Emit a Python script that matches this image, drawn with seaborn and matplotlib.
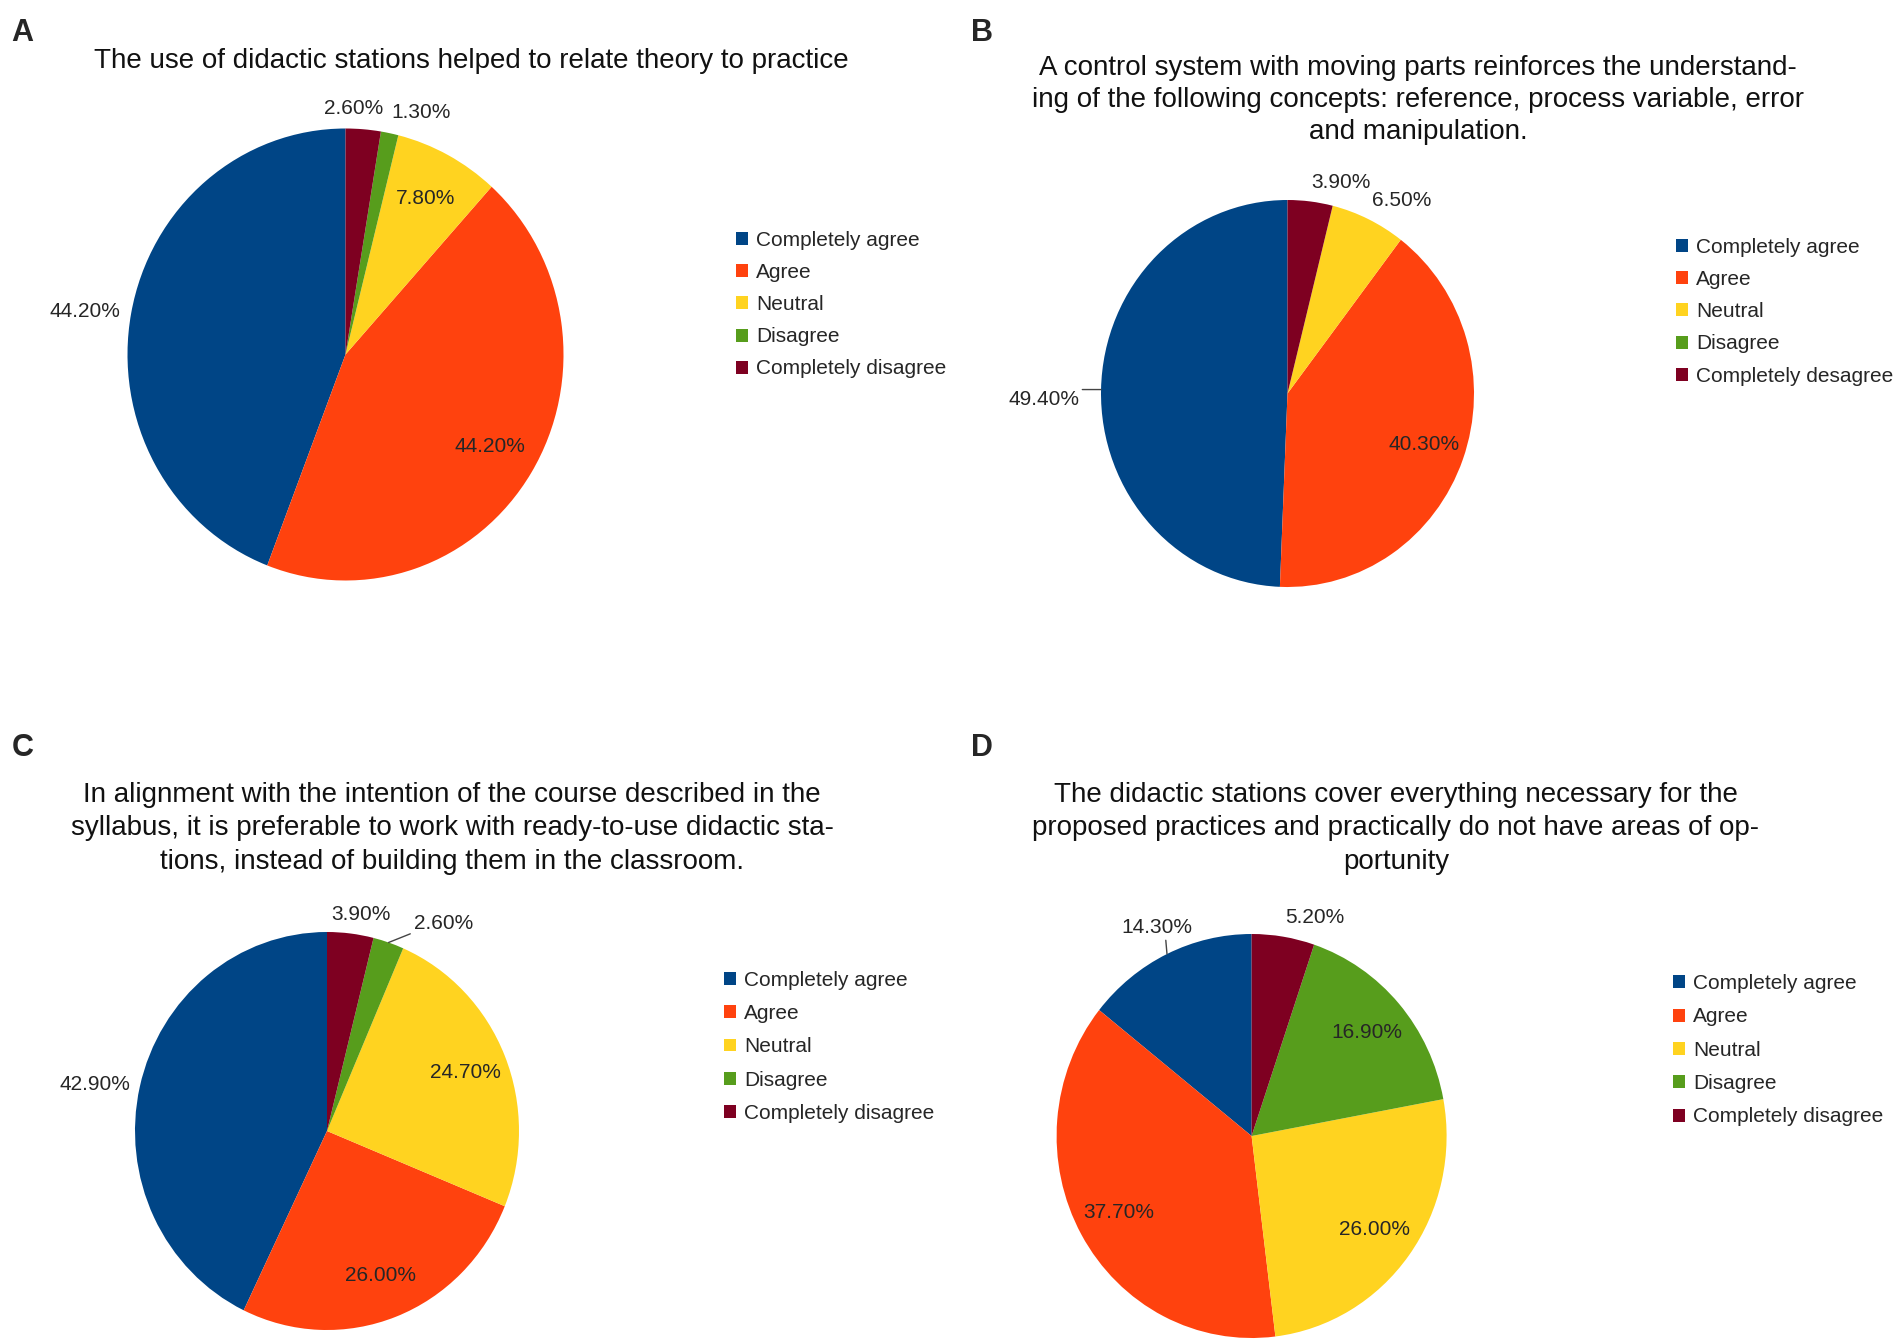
import numpy as np
import matplotlib.pyplot as plt
from matplotlib.patches import Patch
import seaborn as sns

# survey answers, same order in every panel
categories = ["Completely agree", "Agree", "Neutral", "Disagree", "Completely disagree"]
legend_b = ["Completely agree", "Agree", "Neutral", "Disagree", "Completely desagree"]

values_a = [44.2, 44.2, 7.8, 1.3, 2.6]
values_b = [49.4, 40.3, 6.5, 0.0, 3.9]
values_c = [42.9, 26.0, 24.7, 2.6, 3.9]
values_d = [14.3, 37.7, 26.0, 16.9, 5.2]

title_a = ["The use of didactic stations helped to relate theory to practice"]
title_b = [
    "A control system with moving parts reinforces the understand-",
    "ing of the following concepts: reference, process variable, error",
    "and manipulation.",
]
title_c = [
    "In alignment with the intention of the course described in the",
    "syllabus, it is preferable to work with ready-to-use didactic sta-",
    "tions, instead of building them in the classroom.",
]
title_d = [
    "The didactic stations cover everything necessary for the",
    "proposed practices and practically do not have areas of op-",
    "portunity",
]

colors = ["#004586", "#ff420e", "#ffd320", "#579d1c", "#7e0021"]
dark = {"Completely agree", "Completely disagree"}

W, H = 1904, 1342

# layout in pixels: pie = (cx, cy, rx, ry)
panels = [
    dict(letter="A", values=values_a, title=title_a, legend=categories,
         letter_xy=(11, 41), title_xy=(471, 67.6), pitch=32,
         pie=(345.5, 354.5, 218, 226), legend_xy=(736, 238), spacing=0.63,
         nudge={"Completely disagree": -40}, leaders={}),
    dict(letter="B", values=values_b, title=title_b, legend=legend_b,
         letter_xy=(971, 41), title_xy=(1418, 75), pitch=32,
         pie=(1287.5, 393.5, 186.5, 193.5), legend_xy=(1676, 245), spacing=0.63,
         nudge={}, leaders={"Completely agree": (-22, 0, "right", "top", (1, 1))}),
    dict(letter="C", values=values_c, title=title_c, legend=categories,
         letter_xy=(12, 756), title_xy=(452, 801.5), pitch=33.6,
         pie=(327, 1131, 192, 199), legend_xy=(724, 978), spacing=0.68,
         nudge={"Completely disagree": -20},
         leaders={"Disagree": (25, 10, "left", "bottom", (0, 0))}),
    dict(letter="D", values=values_d, title=title_d, legend=categories,
         letter_xy=(971, 756), title_xy=(1396, 801.5), pitch=33.6,
         pie=(1251.6, 1136, 195, 202), legend_xy=(1673, 981), spacing=0.69,
         nudge={}, leaders={"Completely agree": (-10, 17, "center", "bottom", (0.62, 0))}),
]

sns.set_theme(style="white")
plt.rcParams["font.family"] = ["Liberation Sans", "DejaVu Sans"]

fig = plt.figure(figsize=(W / 100, H / 100), dpi=100)
fig.patch.set_facecolor("white")


def fx(x):
    return x / W


def fy(y):
    return 1 - y / H


for p in panels:
    fig.text(fx(p["letter_xy"][0]), fy(p["letter_xy"][1]), p["letter"],
             fontsize=22, fontweight="bold", ha="left", va="baseline")

    tx, ty = p["title_xy"]
    for i, line in enumerate(p["title"]):
        fig.text(fx(tx), fy(ty + i * p["pitch"]), line, fontsize=20,
                 ha="center", va="baseline", color="#111111")

    cx, cy, rx, ry = p["pie"]
    ax = fig.add_axes([fx(cx - rx), fy(cy + ry), 2 * rx / W, 2 * ry / H])
    wedges, _ = ax.pie(p["values"], colors=sns.color_palette(colors),
                       startangle=90, counterclock=True,
                       wedgeprops=dict(linewidth=0))
    ax.set_aspect("auto")
    ax.set_xlim(-1, 1)
    ax.set_ylim(-1, 1)
    ax.axis("off")

    for w, v, name in zip(wedges, p["values"], categories):
        if v == 0:
            continue
        mid = np.deg2rad((w.theta1 + w.theta2) / 2)
        c, s = np.cos(mid), np.sin(mid)
        txt = f"{v:.2f}%"
        if name in p["leaders"]:
            dx, dy, ha, va, rel = p["leaders"][name]
            ax.annotate(txt, xy=(c, s), xytext=(dx, dy), textcoords="offset pixels",
                        ha=ha, va=va, fontsize=15,
                        arrowprops=dict(arrowstyle="-", color="#444444", lw=1,
                                        shrinkA=0, shrinkB=0, relpos=rel))
        elif v < 7 or name in dark:
            ha = "left" if c > 0 else "right"
            va = "center" if abs(s) < 0.3 else ("bottom" if s > 0 else "top")
            t = ax.text(1.05 * c, 1.05 * s, txt, ha=ha, va=va, fontsize=15)
            shift = p["nudge"].get(name, 0)
            if shift:
                t.set_x(1.05 * c + shift / rx)
        else:
            ax.text(0.78 * c, 0.78 * s, txt, ha="center", va="center", fontsize=15)

    handles = [Patch(facecolor=col, edgecolor="none") for col in colors]
    lx, ly = p["legend_xy"]
    fig.legend(handles, p["legend"], loc="upper left",
               bbox_to_anchor=(fx(lx), fy(ly - 7)), frameon=False,
               fontsize=15, handlelength=0.58, handleheight=0.58,
               handletextpad=0.38, labelspacing=p["spacing"], borderpad=0,
               borderaxespad=0)

fig.savefig("out.png", dpi=100, facecolor="white")
